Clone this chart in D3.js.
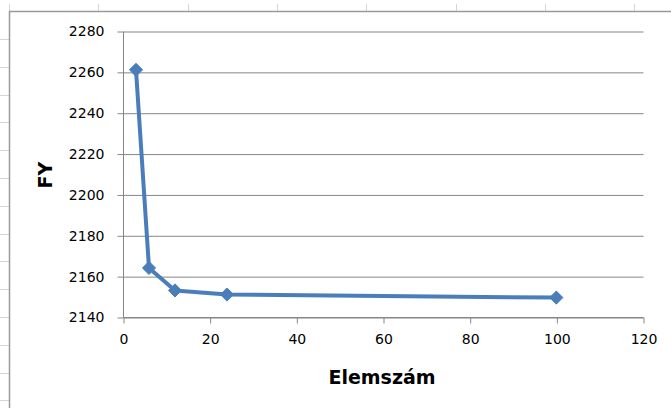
<!DOCTYPE html>
<html>
<head>
<meta charset="utf-8">
<script src="https://cdn.jsdelivr.net/npm/d3@7"></script>
<style>
  body { margin: 0; background: #fff; }
  svg { display: block; }
</style>
</head>
<body>
<div class="chart"></div>
<script>
// values
const elemszam = [3, 6, 12, 24, 100];
const fy = [2261, 2164, 2153, 2151, 2149.5];
const xTicks = [0, 20, 40, 60, 80, 100, 120];
const yTicks = [2140, 2160, 2180, 2200, 2220, 2240, 2260, 2280];

const W = 671, H = 408;
const plot = { left: 123, right: 643, top: 31, bottom: 317 };

const svg = d3
  .select(".chart")
  .append("svg")
  .attr("width", W)
  .attr("height", H);

// spreadsheet grid peeking out round the chart
const sheet = svg.append("g").attr("stroke", "#d6d6d6").attr("stroke-width", 1);
d3.range(39, H, 27.8).forEach(y => {
  sheet.append("line").attr("x1", 0).attr("x2", 9).attr("y1", Math.round(y) + 0.5).attr("y2", Math.round(y) + 0.5);
});
d3.range(9, W, 89.3).forEach(x => {
  sheet.append("line").attr("x1", Math.round(x) + 0.5).attr("x2", Math.round(x) + 0.5).attr("y1", 4).attr("y2", 11);
});

// chart area border
svg.append("rect")
  .attr("x", 9.5)
  .attr("y", 11.5)
  .attr("width", W + 20)
  .attr("height", H + 20)
  .attr("fill", "#fff")
  .attr("stroke", "#9a9a9a")
  .attr("stroke-width", 1.5);

const x = d3.scaleLinear().domain([0, 120]).range([plot.left, plot.right]);
const y = d3.scaleLinear().domain([2140, 2280]).range([plot.bottom, plot.top]);

// horizontal gridlines + y axis
const yAxis = svg.append("g")
  .attr("transform", `translate(${plot.left + 0.5},0.5)`)
  .call(d3.axisLeft(y).tickValues(yTicks).tickSize(6).tickPadding(13).tickFormat(d3.format("d")));
yAxis.select(".domain").attr("stroke", "#868686").attr("d", `M0,${plot.top}V${plot.bottom}`);
yAxis.selectAll(".tick line").attr("stroke", "#868686");
yAxis.selectAll(".tick")
  .append("line")
  .attr("x2", plot.right - plot.left)
  .attr("stroke", "#868686");
yAxis.selectAll(".tick text")
  .attr("fill", "#000")
  .style("font-family", "DejaVu Sans")
  .style("font-size", "14px");

// x axis
const xAxis = svg.append("g")
  .attr("transform", `translate(0.5,${plot.bottom + 0.5})`)
  .call(d3.axisBottom(x).tickValues(xTicks).tickSize(6).tickPadding(11));
xAxis.select(".domain").attr("stroke", "#868686").attr("d", `M${plot.left},0H${plot.right}`);
xAxis.selectAll(".tick line").attr("stroke", "#868686");
xAxis.selectAll(".tick text")
  .attr("fill", "#000")
  .style("font-family", "DejaVu Sans")
  .style("font-size", "14px");

// series
const pts = elemszam.map((d, i) => ({ x: d, y: fy[i] }));

svg.append("path")
  .datum(pts)
  .attr("fill", "none")
  .attr("stroke", "#4a7ebb")
  .attr("stroke-width", 4)
  .attr("stroke-linejoin", "round")
  .attr("d", d3.line().x(d => x(d.x)).y(d => y(d.y)));

svg.selectAll(".pt")
  .data(pts)
  .enter()
  .append("path")
  .attr("class", "pt")
  .attr("transform", d => `translate(${x(d.x)},${y(d.y)})`)
  .attr("d", d3.symbol().type(d3.symbolDiamond2).size(110))
  .attr("fill", "#4a7ebb")
  .attr("stroke", "#4a7ebb")
  .attr("stroke-width", 1);

// axis titles
svg.append("text")
  .attr("x", 382)
  .attr("y", 384)
  .attr("text-anchor", "middle")
  .style("font-family", "DejaVu Sans")
  .style("font-weight", "bold")
  .style("font-size", "19px")
  .text("Elemszám");

svg.append("text")
  .attr("transform", "translate(52,175) rotate(-90)")
  .attr("text-anchor", "middle")
  .style("font-family", "DejaVu Sans")
  .style("font-weight", "bold")
  .style("font-size", "19px")
  .text("FY");
</script>
</body>
</html>
